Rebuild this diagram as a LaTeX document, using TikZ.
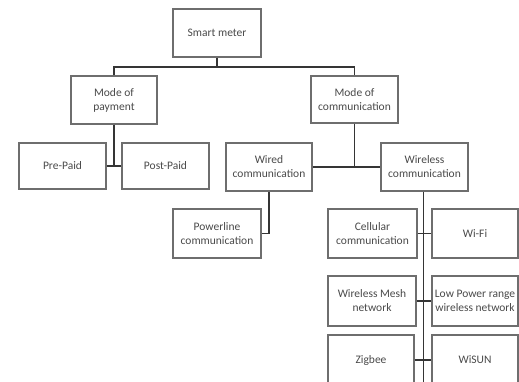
\documentclass[tikz,border=0pt]{standalone}
\usepackage{fontspec}
\setmainfont{Carlito}
\definecolor{boxc}{HTML}{6E6E6E}
\definecolor{linec}{HTML}{353535}
\definecolor{txtc}{HTML}{4A4A4A}
\begin{document}
\begin{tikzpicture}[x=1pt,y=-1pt,
  box/.style={draw=boxc,line width=1.1pt,fill=white,align=center,text=txtc,
    font=\fontsize{11.5}{14}\selectfont,inner sep=1pt,
    minimum width=87pt,minimum height=48pt},
  conn/.style={draw=linec,line width=1.7pt}]
\useasboundingbox (0,0) rectangle (519,381);
\clip (0,0) rectangle (519,381);
\fill[white] (0,0) rectangle (519,381);
% connectors first
\coordinate (j1) at (217,67);
\coordinate (wend) at (423.5,400);
\node[box,minimum width=88pt] (sm) at (217,33) {Smart meter};
\node[box,minimum width=86pt] (mop) at (114,100) {Mode of\\payment};
\node[box,minimum height=47pt] (moc) at (354.5,99.5) {Mode of\\communication};
\node[box,minimum height=46pt] (pre) at (62.5,166) {Pre-Paid};
\node[box,minimum height=46pt] (post) at (165.5,166) {Post-Paid};
\node[box,minimum width=86pt] (wired) at (269,167) {Wired\\communication};
\node[box] (wless) at (424.5,167) {Wireless\\communication};
\node[box,minimum width=88pt,minimum height=49pt] (power) at (217,233.5) {Powerline\\communication};
\node[box,minimum width=89pt,minimum height=49pt] (cell) at (372.5,233.5) {Cellular\\communication};
\node[box,minimum width=86pt,minimum height=49pt] (wifi) at (475,233.5) {Wi-Fi};
\node[box,minimum width=88pt,minimum height=50pt] (mesh) at (372,301) {Wireless Mesh\\network};
\node[box,minimum width=86pt,minimum height=50pt] (lpw) at (475,301) {Low Power range\\wireless network};
\node[box,minimum width=86pt,minimum height=50pt] (zig) at (371,360) {Zigbee};
\node[box,minimum width=86pt,minimum height=50pt] (wisun) at (475,360) {WiSUN};
% connectors
\draw[conn] (sm.south) -- (j1);
\draw[conn] (mop.north) |- (j1) -| (moc.north);
\draw[conn] (mop.south) -- (mop.south |- pre.east);
\draw[conn] (pre.east) -- (post.west);
\draw[conn] (moc.south) -- (moc.south |- wired.east);
\draw[conn] (wired.east) -- (wless.west);
\draw[conn] (wired.south) |- (power.east);
\draw[conn] ([xshift=-1pt]wless.south) -- (wend);
\draw[conn] (cell.east) -- (wifi.west);
\draw[conn] (mesh.east) -- (lpw.west);
\draw[conn] (zig.east) -- (wisun.west);
\end{tikzpicture}
\end{document}
